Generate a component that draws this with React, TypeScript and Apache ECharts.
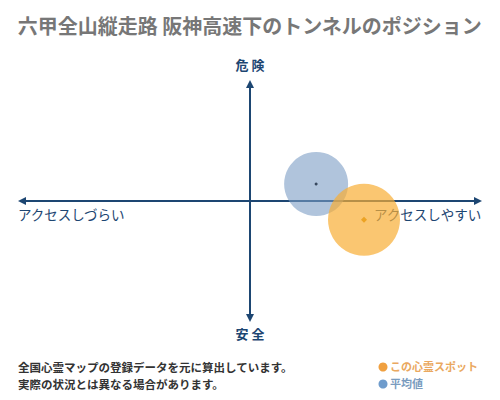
import { useEffect, useRef } from "react";
import * as echarts from "echarts";

const titleText = "六甲全山縦走路 阪神高速下のトンネルのポジション";
const axisNames = { top: "危 険", bottom: "安 全", left: "アクセスしづらい", right: "アクセスしやすい" };
const noteLines = ["全国心霊マップの登録データを元に算出しています。", "実際の状況とは異なる場合があります。"];
const legendNames = ["この心霊スポット", "平均値"];

// [access, danger, bubble size]
const spotPoint = [0.5, -0.16, 72];
const averagePoint = [0.29, 0.145, 64];

const navy = "#1d4672";
const font = "'Noto Sans CJK JP', sans-serif";

export default function App() {
  const chartRef = useRef(null);

  useEffect(() => {
    const chart = echarts.init(chartRef.current, null, { renderer: "svg" });

    const axisLine = {
      show: true,
      onZero: true,
      symbol: ["triangle", "triangle"],
      symbolSize: [8, 8],
      lineStyle: { color: navy, width: 2 },
    };

    chart.setOption({
      animation: false,
      textStyle: { fontFamily: font },
      grid: { left: 22, right: 22, top: 84, bottom: 82 },
      xAxis: {
        type: "value",
        min: -1,
        max: 1,
        axisLine,
        axisTick: { show: false },
        axisLabel: { show: false },
        splitLine: { show: false },
      },
      yAxis: {
        type: "value",
        min: -1,
        max: 1,
        axisLine,
        axisTick: { show: false },
        axisLabel: { show: false },
        splitLine: { show: false },
      },
      series: [
        {
          type: "scatter",
          data: [averagePoint],
          symbolSize: (d: number[]) => d[2],
          itemStyle: { color: "#7b9cc4", opacity: 0.6 },
        },
        {
          type: "scatter",
          data: [spotPoint],
          symbolSize: (d: number[]) => d[2],
          itemStyle: { color: "#f8ae35", opacity: 0.7 },
        },
        {
          type: "scatter",
          data: [averagePoint.slice(0, 2)],
          symbolSize: 3,
          itemStyle: { color: "#1a2a40" },
        },
        {
          type: "scatter",
          data: [spotPoint.slice(0, 2)],
          symbol: "diamond",
          symbolSize: 6,
          itemStyle: { color: "#e89a10" },
        },
      ],
      graphic: [
        {
          type: "text",
          left: "center",
          top: 15,
          style: { text: titleText, fontSize: 20, fontWeight: "bold", fill: "#777", fontFamily: font },
        },
        {
          type: "text",
          left: "center",
          top: 58,
          style: { text: axisNames.top, fontSize: 13, fontWeight: "bold", fill: navy, fontFamily: font },
        },
        {
          type: "text",
          left: "center",
          top: 327,
          style: { text: axisNames.bottom, fontSize: 13, fontWeight: "bold", fill: navy, fontFamily: font },
        },
        {
          type: "text",
          left: 18,
          top: 207,
          style: { text: axisNames.left, fontSize: 13.5, fill: navy, fontFamily: font },
        },
        {
          type: "text",
          right: 18,
          top: 207,
          style: { text: axisNames.right, fontSize: 13.5, fill: navy, fontFamily: font },
        },
        {
          type: "text",
          left: 18,
          top: 358,
          style: { text: noteLines.join("\n"), fontSize: 11.5, lineHeight: 17, fontWeight: "bold", fill: "#333", fontFamily: font },
        },
        {
          type: "circle",
          shape: { cx: 383, cy: 367, r: 4.5 },
          style: { fill: "#f0a040" },
        },
        {
          type: "text",
          left: 390,
          top: 360,
          style: { text: legendNames[0], fontSize: 11, fontWeight: "bold", fill: "#eaa860", fontFamily: font },
        },
        {
          type: "circle",
          shape: { cx: 383, cy: 384, r: 4.5 },
          style: { fill: "#6f9ccc" },
        },
        {
          type: "text",
          left: 390,
          top: 377,
          style: { text: legendNames[1], fontSize: 11, fontWeight: "bold", fill: "#7a9cbf", fontFamily: font },
        },
      ],
    });

    return () => {
      chart.dispose();
    };
  }, []);

  return <div ref={chartRef} style={{ width: "500px", height: "400px", margin: "-8px" }} />;
}
